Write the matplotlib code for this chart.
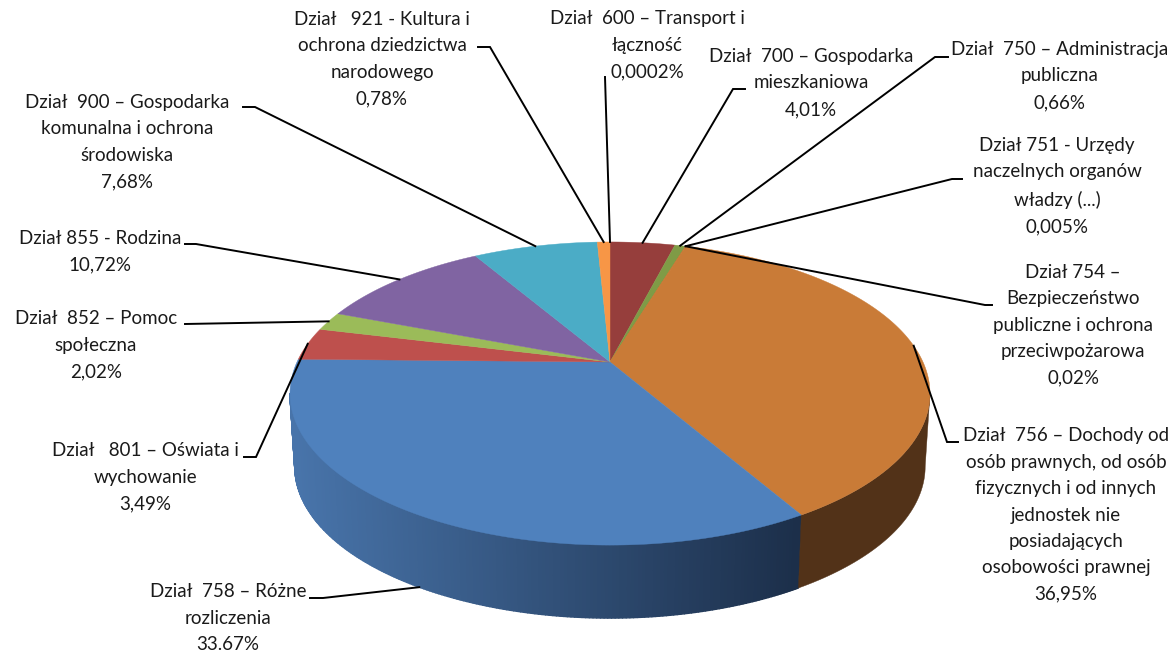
import numpy as np
import matplotlib
matplotlib.use("Agg")
import matplotlib.pyplot as plt
from matplotlib.collections import PolyCollection

plt.rcParams["font.family"] = ["Lato", "DejaVu Sans"]

# udzial dzialow w dochodach, zgodnie z ruchem wskazowek od godziny 12
dzialy = ["600", "700", "750", "751", "754", "756", "758", "801", "852", "855", "900", "921"]
wartosci = [0.0002, 4.01, 0.66, 0.005, 0.02, 36.95, 33.67, 3.49, 2.02, 10.72, 7.68, 0.78]
etykiety = [
    "Dział  600 – Transport i\nłączność\n0,0002%",
    "Dział  700 – Gospodarka\nmieszkaniowa\n4,01%",
    "Dział  750 – Administracja\npubliczna\n0,66%",
    "Dział 751 - Urzędy\nnaczelnych organów\nwładzy (...)\n0,005%",
    "Dział 754 –\nBezpieczeństwo\npubliczne i ochrona\nprzeciwpożarowa\n0,02%",
    "Dział  756 – Dochody od\nosób prawnych, od osób\nfizycznych i od innych\njednostek nie\nposiadających\nosobowości prawnej\n36,95%",
    "Dział  758 – Różne\nrozliczenia\n33.67%",
    "Dział   801 – Oświata i\nwychowanie\n3,49%",
    "Dział  852 – Pomoc\nspołeczna\n2,02%",
    "Dział 855 - Rodzina\n10,72%",
    "Dział  900 – Gospodarka\nkomunalna i ochrona\nśrodowiska\n7,68%",
    "Dział   921 - Kultura i\nochrona dziedzictwa\nnarodowego\n0,78%",
]
kolory = ["#F79646", "#963E3C", "#7F9B46", "#7F9B46", "#C97B37", "#C97B37",
          "#4F81BD", "#BE504D", "#9BBB59", "#8064A2", "#4BACC6", "#F79646"]

# pozycje etykiet (srodek tekstu) i kolanka linii, w pikselach
etykiety_xy = [(647, 45), (811, 83), (1060, 76), (1057, 186), (1073, 325), (1066, 515),
               (228, 618), (145, 477), (96, 345), (100, 252), (127, 142), (382, 59)]
kolanka = [[(605, 77)], [(745, 89), (733, 89)], [(948, 57), (935, 57)], [(962, 179), (952, 179)],
           [(992, 305), (985, 305)], [(958, 442), (947, 442)], [(310, 598), (323, 598)],
           [(244, 457), (256, 457)], [(185, 324)], [(185, 244), (196, 244)],
           [(243, 107), (255, 107)], [(478, 47), (490, 47)]]

# rzut perspektywiczny kola
cx, cy = 610, 362
A, B, p = 313, 145, 0.208
glebokosc = 73


def rzut(t, dol=0.0):
    t = np.radians(t)
    X, Y = np.sin(t), np.cos(t)
    w = 1 + p * Y
    skala = 1 - 0.015 * dol
    return cx + skala * A * X / w, cy - B * Y / w + dol * glebokosc


fig = plt.figure(figsize=(11.75, 6.51), dpi=100)
ax = fig.add_axes([0, 0, 1, 1])
ax.set_xlim(0, 1175)
ax.set_ylim(651, 0)
ax.axis("off")

udzial = np.array(wartosci) / sum(wartosci) * 360
koniec = np.cumsum(udzial)
start = koniec - udzial
srodek = (start + koniec) / 2

# boczna sciana - tylko przod, miedzy skrajnymi punktami elipsy
i_brazowy = dzialy.index("756")
kat_prawy = 102.0
kat_lewy = 258.0

ts = np.linspace(koniec[i_brazowy], kat_lewy, 200)
quady = []
kolory_boku = []
lewy = np.array([72, 116, 170]) / 255
prawy = np.array([28, 47, 74]) / 255
for a, b in zip(ts[:-1], ts[1:]):
    quady.append([rzut(a), rzut(b), rzut(b, 1), rzut(a, 1)])
    x = rzut(a, 1)[0]
    f = np.clip((x - 300) / (795 - 300), 0, 1)
    kolory_boku.append(lewy * (1 - f) + prawy * f)
ax.add_collection(PolyCollection(quady, facecolors=kolory_boku, edgecolors=kolory_boku, linewidths=1.0))

ts = np.arange(kat_prawy, koniec[i_brazowy], 1.0)
ts = np.append(ts, koniec[i_brazowy])
gora = [rzut(t) for t in ts]
dol = [rzut(t, 1) for t in ts[::-1]]
ax.fill([q[0] for q in gora + dol], [q[1] for q in gora + dol], color="#523218", lw=0.3)

# gorna powierzchnia
for s, k, kolor in zip(start, koniec, kolory):
    ts = np.linspace(s, k, max(2, int(k - s) * 2))
    xs, ys = rzut(ts)
    ax.fill(np.r_[cx, xs], np.r_[cy, ys], color=kolor, lw=0.3)

# linie odniesienia i etykiety
for i, tekst in enumerate(etykiety):
    px, py = rzut(srodek[i], 1 if dzialy[i] == "758" else 0)
    punkty = kolanka[i] + [(px, py)]
    ax.plot([q[0] for q in punkty], [q[1] for q in punkty], color="black", lw=1.4, solid_joinstyle="miter")
    ax.text(etykiety_xy[i][0], etykiety_xy[i][1], tekst, ha="center", va="center",
            fontsize=13.5, linespacing=1.67, color="#1a1a1a")

plt.savefig("out.png", dpi=100)
